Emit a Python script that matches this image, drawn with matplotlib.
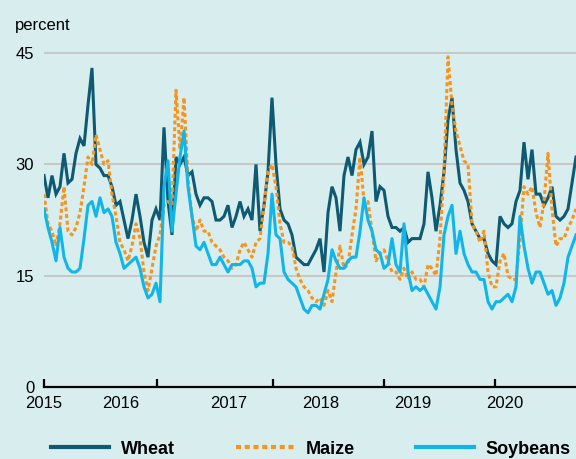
import matplotlib
matplotlib.use("Agg")
import matplotlib.pyplot as plt
from matplotlib.lines import Line2D
import numpy as np

# implied volatility, percent; one reading roughly every half month from Jan 2015
wheat = [28.5, 25.5, 28.5, 26, 27, 31.5, 27.5, 28, 31.5, 33.5, 32.5, 38, 43, 30, 29.5, 28.5,
         28.5, 27, 24.5, 25, 22.5, 20, 22.5, 26, 23, 19.5, 17.5, 22.5, 24, 22.5, 35, 25,
         20.5, 31, 30, 31, 28.5, 29, 26, 24.5, 25.5, 25.5, 25, 22.5, 22.5, 23, 24.5, 21.5,
         23, 25, 23, 24, 22.5, 30, 21, 24.5, 29, 39, 30, 24, 22.5, 22, 20.5, 17.5,
         17, 16.5, 16.5, 17.5, 18.5, 20, 15.5, 23.5, 27, 25.5, 21, 28.5, 31, 28.5, 32, 33,
         30, 31, 34.5, 25, 27, 26.5, 23, 21.5, 21.5, 21, 21.5, 19.5, 20, 20, 20, 22,
         29, 25.5, 21, 24.5, 29, 36, 39, 32, 27.5, 26.5, 25, 22, 21, 20, 20, 18,
         17, 16.5, 23, 22, 21.5, 22, 25, 26.5, 33, 28, 32, 26, 26, 24.5, 25.5, 27,
         23, 22.5, 23, 24, 27.5, 31]
maize = [26, 22, 21, 19, 22, 27, 21, 20.5, 21.5, 23.5, 27, 31, 30, 34, 32, 30,
         30.5, 26, 23, 19.5, 18.5, 17, 19, 22, 20, 15.5, 13, 16, 19, 20.5, 24.5, 25,
         24.5, 40, 32, 39, 28, 23, 21, 22.5, 21, 21, 19.5, 19, 18.5, 17.5, 17, 16,
         16.5, 18.5, 19.5, 18.5, 17.5, 19.5, 20, 24.5, 29, 30, 27, 22, 19.5, 19.5, 19, 16,
         14.5, 13.5, 13, 12, 11.5, 12, 11, 13, 11.5, 15.5, 19, 16, 16.5, 20.5, 24, 31,
         25, 25, 21, 17, 18, 18.5, 17, 15.5, 15.5, 14.5, 16, 14.5, 15.5, 14.5, 14.5, 13.5,
         16.5, 16, 15, 20, 29, 44.5, 38, 34.5, 32.5, 30.5, 30, 22, 21, 19.5, 21, 15.5,
         13.5, 13.5, 17, 18, 15, 14.5, 14.5, 20, 27, 26, 27, 23.5, 21.5, 25, 31.5, 24,
         19, 20, 20, 21.5, 22.5, 24]
soybeans = [24, 21.5, 19.5, 17, 21.5, 17.5, 16, 15.5, 15.5, 16, 20, 24.5, 25, 23, 25.5, 23.5,
            24, 23, 19.5, 18, 16, 16.5, 17, 17.5, 16, 13.5, 12, 12.5, 14, 11.5, 27, 30.5,
            21, 26, 31, 34.5, 27, 23, 19, 18.5, 19.5, 18, 16.5, 16.5, 17.5, 16.5, 15.5, 16.5,
            16.5, 16.5, 17, 17, 16, 13.5, 14, 14, 18, 26, 20.5, 20, 15.5, 14.5, 14, 13.5,
            12, 10.5, 10, 11, 11, 10.5, 12.5, 14.5, 18.5, 17, 16, 16, 17, 17.5, 17.5, 21,
            25.5, 22.5, 21, 18.5, 18, 16, 16.5, 20, 16.5, 15.5, 22, 15.5, 13, 13.5, 13, 13.5,
            12.5, 11.5, 10.5, 13.5, 20.5, 23, 24.5, 18, 21, 18, 16.5, 15.5, 15.5, 14.5, 14.5, 11.5,
            10.5, 11.5, 11.5, 12, 12.5, 11.5, 13.5, 23, 19, 16, 14, 15.5, 15.5, 14, 12.5, 13,
            11, 12, 14, 17.5, 19, 20.5]

years = 2015 + np.arange(len(wheat)) / 23.0

year_labels = ['2015', '2016', '2017', '2018', '2019', '2020']
label_pos = [2015.0, 2015.83, 2017.01, 2018.01, 2019.01, 2020.01]
tick_pos = [2015.0, 2016.23, 2017.49, 2018.70, 2019.90]

bg = '#d8eeee'
c_wheat = '#0e5a73'
c_maize = '#f7941d'
c_soy = '#12b5ea'

plt.rcParams['font.family'] = ['Liberation Sans', 'DejaVu Sans']

fig = plt.figure(figsize=(5.76, 4.59), dpi=100, facecolor=bg)
ax = fig.add_axes([44 / 576, 1 - 387 / 459, 1 - 44 / 576, 348.7 / 459])
ax.set_facecolor(bg)

ax.plot(years, wheat, color=c_wheat, lw=2.2, solid_joinstyle='miter')
ax.plot(years, maize, color=c_maize, lw=2.2, linestyle=(0, (1.3, 0.9)))
ax.plot(years, soybeans, color=c_soy, lw=2.2)

ax.set_ylim(0, 47)
ax.set_xlim(years[0], years[-1])
ax.set_yticks([0, 15, 30, 45])
ax.set_yticklabels(['0', '15', '30', '45'])
for v in [15, 30, 45]:
    ax.axhline(v, color='#c8c8c8', lw=1.5, zorder=0)

for s in ['top', 'right', 'left']:
    ax.spines[s].set_visible(False)
ax.spines['bottom'].set_linewidth(1.6)
ax.spines['bottom'].set_color('black')

ax.tick_params(axis='y', length=0, pad=7, labelsize=12)
ax.set_xticks(tick_pos)
ax.set_xticklabels([])
ax.tick_params(axis='x', direction='in', length=6, width=1.6, color='black')

for lab, p in zip(year_labels, label_pos):
    ax.text(p, -0.06, lab, transform=ax.get_xaxis_transform(), ha='center',
            va='baseline', fontsize=12)

fig.text(15 / 576, 1 - 30 / 459, 'percent', fontsize=12, va='baseline')

handles = [Line2D([], [], color=c_wheat, lw=3),
           Line2D([], [], color=c_maize, lw=3, linestyle=(0, (1.2, 0.9))),
           Line2D([], [], color=c_soy, lw=3)]
fig.legend(handles, ['Wheat', 'Maize', 'Soybeans'], loc='center left',
           bbox_to_anchor=(51 / 576, 1 - 449 / 459), ncol=3, frameon=False,
           prop={'weight': 'bold', 'size': 13}, handlelength=3.2, handletextpad=0.65,
           columnspacing=3.4, borderpad=0, borderaxespad=0)

fig.savefig('out.png', dpi=100, facecolor=bg)
